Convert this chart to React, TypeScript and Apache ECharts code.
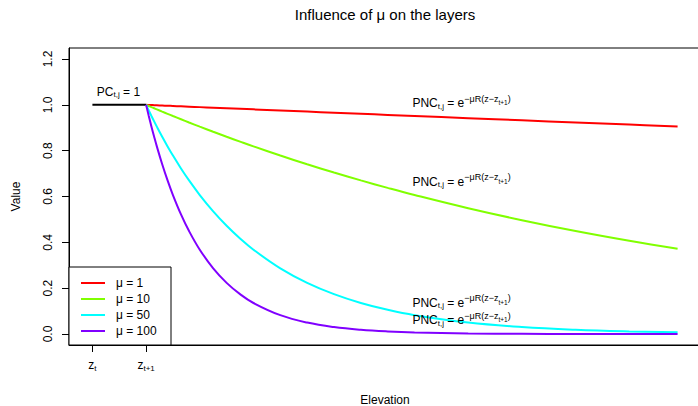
import { useEffect, useRef } from 'react';
import * as echarts from 'echarts';

// ---- data ----
// x positions along elevation, in units where z_t = 0 and z_{t+1} = 1
const xValues = [1, 1.05, 1.1, 1.15, 1.2, 1.3, 1.4, 1.5, 1.65, 1.8, 2, 2.25, 2.5, 2.75, 3, 3.5, 4, 4.5, 5, 5.5, 6, 7, 8, 9, 10, 10.9];
const mu1 = [1, 0.9995, 0.999, 0.9985, 0.998, 0.997, 0.996, 0.995, 0.9935, 0.992, 0.99, 0.9876, 0.9851, 0.9827, 0.9802, 0.9753, 0.9704, 0.9656, 0.9608, 0.956, 0.9512, 0.9418, 0.9324, 0.9231, 0.9139, 0.9057];
const mu10 = [1, 0.995, 0.99, 0.9851, 0.9802, 0.9704, 0.9608, 0.9512, 0.9371, 0.9231, 0.9048, 0.8825, 0.8607, 0.8395, 0.8187, 0.7788, 0.7408, 0.7047, 0.6703, 0.6376, 0.6065, 0.5488, 0.4966, 0.4493, 0.4066, 0.3716];
const mu50 = [1, 0.9753, 0.9512, 0.9277, 0.9048, 0.8607, 0.8187, 0.7788, 0.7225, 0.6703, 0.6065, 0.5353, 0.4724, 0.4169, 0.3679, 0.2865, 0.2231, 0.1738, 0.1353, 0.1054, 0.0821, 0.0498, 0.0302, 0.0183, 0.0111, 0.0071];
const mu100 = [1, 0.9512, 0.9048, 0.8607, 0.8187, 0.7408, 0.6703, 0.6065, 0.522, 0.4493, 0.3679, 0.2865, 0.2231, 0.1738, 0.1353, 0.0821, 0.0498, 0.0302, 0.0183, 0.0111, 0.0067, 0.0025, 0.0009, 0.0003, 0.0001, 0.0001];
const pcX = [0, 1];
const pcY = [1, 1];
const seriesNames = ['μ = 1', 'μ = 10', 'μ = 50', 'μ = 100'];
const seriesColors = ['#FF0000', '#80FF00', '#00FFFF', '#8000FF'];
const yTicks = [0, 0.2, 0.4, 0.6, 0.8, 1.0, 1.2];
const xTicks = [0, 1];
const xTickLabels = ['{b|z}{s|t}', '{b|z}{s|t+1}'];
const titleText = 'Influence of μ on the layers';
const pncLabel = '{b|PNC}{s|t,j}{b| = e}{p|−μR(z−z}{q|t+1}{p|)}';
const pcLabel = '{b|PC}{s|t,j}{b| = 1}';
// annotation anchors (data coordinates)
const annotX = [0.082, 5.96, 5.96, 5.96, 5.96];
const annotY = [1.052, 1.0026, 0.66, 0.133, 0.0546];
const annotText = [pcLabel, pncLabel, pncLabel, pncLabel, pncLabel];

const FONT = "'Liberation Sans', Arial, Helvetica, sans-serif";

const richStyles = {
  b: { fontSize: 12, lineHeight: 20, verticalAlign: 'top', padding: [3, 0, 0, 0], fontFamily: FONT, color: '#000' },
  s: { fontSize: 8, lineHeight: 20, verticalAlign: 'top', padding: [8, 0, 0, 0], fontFamily: FONT, color: '#000' },
  p: { fontSize: 9, lineHeight: 20, verticalAlign: 'top', padding: [0, 0, 0, 0], fontFamily: FONT, color: '#000' },
  q: { fontSize: 6.5, lineHeight: 20, verticalAlign: 'top', padding: [5, 0, 0, 0], fontFamily: FONT, color: '#000' },
};

export default function App() {
  const ref = useRef<HTMLDivElement>(null);
  useEffect(() => {
    if (!ref.current) return;
    const chart = echarts.init(ref.current, undefined, { renderer: 'svg' });
    const curves = [mu1, mu10, mu50, mu100];
    const option: any = {
      animation: false,
      backgroundColor: '#fff',
      textStyle: { fontFamily: FONT },
      title: {
        text: titleText,
        left: 385,
        top: 7,
        padding: 0,
        textAlign: 'center',
        textStyle: { fontSize: 15, fontWeight: 'normal', color: '#000', fontFamily: FONT },
      },
      grid: {
        left: 69,
        top: 48,
        right: -3,
        bottom: 61,
        show: true,
        borderColor: '#000',
        borderWidth: 1,
        outerBoundsMode: 'none',
        containLabel: false,
      },
      legend: {
        data: seriesNames.map((n) => ({ name: n, icon: 'rect' })),
        orient: 'vertical',
        left: 69,
        top: 267,
        itemWidth: 24,
        itemHeight: 2,
        itemGap: 2,
        padding: [9, 11, 7, 12],
        borderColor: '#000',
        borderWidth: 1,
        backgroundColor: '#fff',
        selectedMode: false,
        textStyle: { fontSize: 12, lineHeight: 14, width: 44, padding: [0, 0, 0, 6], color: '#000', fontFamily: FONT },
      },
      xAxis: {
        type: 'value',
        min: -0.436,
        max: 11.336,
        name: 'Elevation',
        nameLocation: 'middle',
        nameGap: 49,
        nameMoveOverlap: false,
        nameTextStyle: { fontSize: 12, color: '#000', fontFamily: FONT },
        axisLine: { show: true, onZero: false, lineStyle: { color: '#000', width: 1 } },
        axisTick: { show: true, length: 7, customValues: xTicks, lineStyle: { color: '#000' } },
        axisLabel: {
          customValues: xTicks,
          margin: 11,
          formatter: (v: number) => xTickLabels[xTicks.indexOf(v)] ?? '',
          rich: richStyles,
        },
        splitLine: { show: false },
      },
      yAxis: {
        type: 'value',
        min: -0.048,
        max: 1.248,
        name: 'Value',
        nameLocation: 'middle',
        nameRotate: 90,
        nameGap: 47,
        nameMoveOverlap: false,
        nameTextStyle: { fontSize: 12, color: '#000', fontFamily: FONT },
        axisLine: { show: true, onZero: false, lineStyle: { color: '#000', width: 1 } },
        axisTick: { show: true, length: 7, customValues: yTicks, lineStyle: { color: '#000' } },
        axisLabel: {
          customValues: yTicks,
          rotate: 90,
          margin: 15,
          fontSize: 12,
          color: '#000',
          fontFamily: FONT,
          formatter: (v: number) => v.toFixed(1),
        },
        splitLine: { show: false },
      },
      series: [
        {
          name: 'PC',
          type: 'line',
          data: pcX.map((x, i) => [x, pcY[i]]),
          symbol: 'none',
          color: '#000',
          lineStyle: { color: '#000', width: 2 },
        },
        ...curves.map((c, k) => ({
          name: seriesNames[k],
          type: 'line',
          data: xValues.map((x, i) => [x, c[i]]),
          symbol: 'none',
          smooth: 0.4,
          color: seriesColors[k],
          itemStyle: { color: seriesColors[k] },
          lineStyle: { color: seriesColors[k], width: 2 },
        })),
      ],
    };
    chart.setOption(option);
    const graphics = annotText.map((t, i) => {
      const p = chart.convertToPixel({ gridIndex: 0 }, [annotX[i], annotY[i]]) as number[];
      return {
        type: 'text',
        x: p[0],
        y: p[1],
        z: 100,
        style: {
          text: t,
          align: 'left',
          verticalAlign: 'middle',
          rich: richStyles,
          fontFamily: FONT,
        },
      };
    });
    chart.setOption({ graphic: graphics });
    return () => chart.dispose();
  }, []);
  return (
    <div
      ref={ref}
      style={{ position: 'fixed', left: 0, top: 0, width: 698, height: 406, background: '#fff' }}
    />
  );
}
